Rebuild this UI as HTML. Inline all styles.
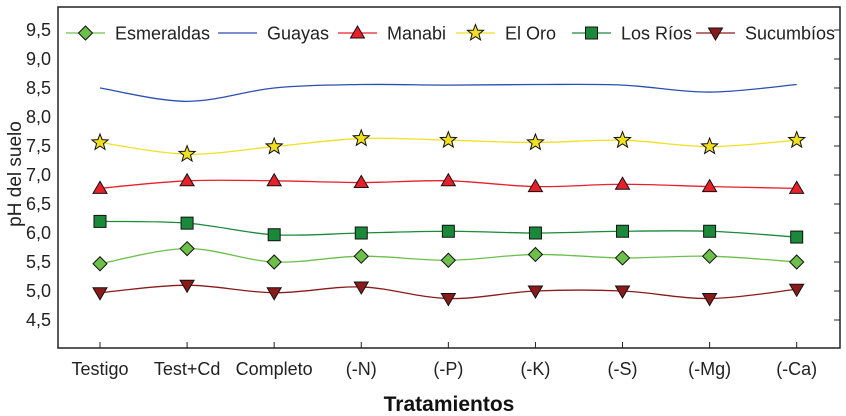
<!DOCTYPE html>
<html><head><meta charset="utf-8"><style>
body{margin:0;background:#fff}
svg{display:block;font-family:"Liberation Sans",Arial,sans-serif}
</style></head><body>
<svg id="chart" width="846" height="416" viewBox="0 0 846 416"></svg>
<script>
const categories=["Testigo","Test+Cd","Completo","(-N)","(-P)","(-K)","(-S)","(-Mg)","(-Ca)"];
const yTicks=[4.5,5.0,5.5,6.0,6.5,7.0,7.5,8.0,8.5,9.0,9.5];
const esmeraldas=[5.47,5.73,5.5,5.6,5.53,5.63,5.57,5.6,5.5];
const guayas=[8.5,8.27,8.5,8.56,8.55,8.56,8.55,8.43,8.56];
const manabi=[6.77,6.9,6.9,6.87,6.9,6.8,6.84,6.8,6.77];
const elOro=[7.56,7.36,7.49,7.63,7.6,7.56,7.6,7.49,7.6];
const losRios=[6.2,6.17,5.97,6.0,6.03,6.0,6.03,6.03,5.93];
const sucumbios=[4.97,5.1,4.97,5.07,4.87,5.0,5.0,4.87,5.03];

const svg=document.getElementById('chart');
const NS='http://www.w3.org/2000/svg';
const L=58,R=840,T=7,B=348;
const x=i=>100+i*(796.7-100)/(categories.length-1);
const y=v=>320-(v-4.5)*58;
function mk(tag,attrs,parent){const e=document.createElementNS(NS,tag);for(const k in attrs)e.setAttribute(k,attrs[k]);(parent||svg).appendChild(e);return e;}

const frame=mk('rect',{x:L,y:T,width:R-L,height:B-T,fill:'none',stroke:'#222','stroke-width':1.5});



yTicks.forEach(t=>{
  const tx=mk('text',{x:L-7,y:y(t)+6,'text-anchor':'end','font-size':18,fill:'#222'});
  tx.textContent=t.toFixed(1).replace('.',',');
  
  
  mk('line',{x1:R-6,x2:R,y1:y(t),y2:y(t),stroke:'#222','stroke-width':1});
});
categories.forEach((c,i)=>{
  mk('line',{x1:x(i),x2:x(i),y1:B-6,y2:B,stroke:'#222','stroke-width':1});
  const tx=mk('text',{x:x(i),y:375,'text-anchor':'middle','font-size':18,fill:'#222'});
  tx.textContent=c;
  
  
});
const xt=mk('text',{x:449,y:411,'text-anchor':'middle','font-size':21,'font-weight':'bold',fill:'#111'});
xt.textContent='Tratamientos';


const yt=mk('text',{x:0,y:0,'text-anchor':'middle','font-size':19,fill:'#222',transform:'translate(21,174) rotate(-90)'});
yt.textContent='pH del suelo';



function smooth(pts){
  let d=`M${pts[0][0]},${pts[0][1]}`;
  for(let i=0;i<pts.length-1;i++){
    const p0=pts[Math.max(0,i-1)],p1=pts[i],p2=pts[i+1],p3=pts[Math.min(pts.length-1,i+2)];
    const c1=[p1[0]+(p2[0]-p0[0])/6,p1[1]+(p2[1]-p0[1])/6];
    const c2=[p2[0]-(p3[0]-p1[0])/6,p2[1]-(p3[1]-p1[1])/6];
    d+=` C${c1[0]},${c1[1]} ${c2[0]},${c2[1]} ${p2[0]},${p2[1]}`;
  }
  return d;
}
function marker(type,cx,cy,fill,g){
  const s={stroke:'#111','stroke-width':1,fill:fill};
  if(type==='diamond')return mk('polygon',Object.assign({points:`${cx},${cy-7} ${cx+7},${cy} ${cx},${cy+7} ${cx-7},${cy}`},s),g);
  if(type==='square')return mk('rect',Object.assign({x:cx-6,y:cy-6,width:12,height:12},s),g);
  if(type==='tri')return mk('polygon',Object.assign({points:`${cx},${cy-7} ${cx+7},${cy+5} ${cx-7},${cy+5}`},s),g);
  if(type==='tridown')return mk('polygon',Object.assign({points:`${cx},${cy+7} ${cx+7},${cy-5} ${cx-7},${cy-5}`},s),g);
  if(type==='star'){let p=[];for(let k=0;k<10;k++){const r=k%2?3.6:8.5,a=-Math.PI/2+k*Math.PI/5;p.push((cx+r*Math.cos(a)).toFixed(2)+','+(cy+r*Math.sin(a)).toFixed(2));}
    return mk('polygon',Object.assign({points:p.join(' ')},s),g);}
  return null;
}
const series=[
 {name:'Esmeraldas',vals:esmeraldas,color:'#6cc04a',fill:'#6cc04a',m:'diamond',lx:66},
 {name:'Guayas',vals:guayas,color:'#2a4fb0',fill:null,m:null,lx:218},
 {name:'Manabi',vals:manabi,color:'#e8202a',fill:'#e8202a',m:'tri',lx:338},
 {name:'El Oro',vals:elOro,color:'#f0e020',fill:'#f0e020',m:'star',lx:456},
 {name:'Los Ríos',vals:losRios,color:'#1a8a3a',fill:'#1a8a3a',m:'square',lx:572},
 {name:'Sucumbíos',vals:sucumbios,color:'#8b1a1a',fill:'#8b1a1a',m:'tridown',lx:696}
];
series.forEach(s=>{
  const g=mk('g',{});
  
  
  const pts=s.vals.map((v,i)=>[x(i),y(v)]);
  mk('path',{d:smooth(pts),fill:'none',stroke:s.color,'stroke-width':1.3},g);
  if(s.m)pts.forEach(p=>{const e=marker(s.m,p[0],p[1],s.fill,g);});
  const lg=mk('g',{});
  
  
  mk('line',{x1:s.lx,x2:s.lx+39,y1:33,y2:33,stroke:s.color,'stroke-width':1.3},lg);
  if(s.m)marker(s.m,s.lx+19.5,33,s.fill,lg);
  const t=mk('text',{x:s.lx+49,y:39.5,'font-size':18,fill:'#222'},lg);
  t.textContent=s.name;
});
</script>
</body></html>
